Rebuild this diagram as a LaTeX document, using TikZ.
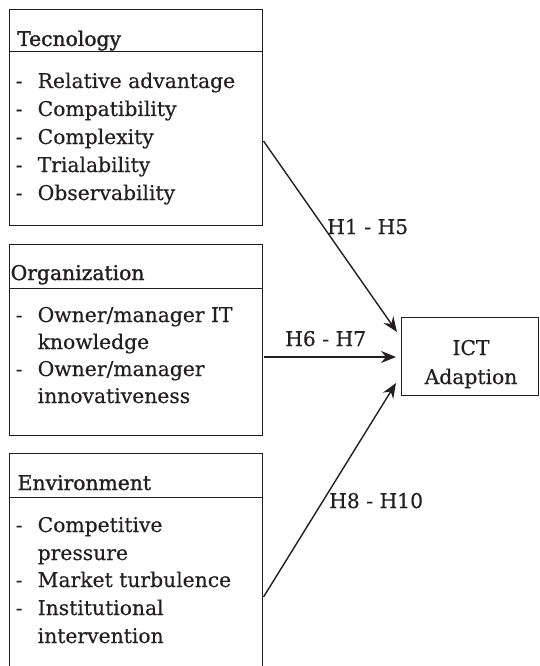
\documentclass[tikz,border=0pt]{standalone}
\usepackage{fontspec}
\setmainfont[FakeBold=0.35]{DejaVu Serif}
\newfontfamily\hdfont[FakeBold=1.4]{DejaVu Serif}
\usetikzlibrary{arrows.meta}
\definecolor{ink}{HTML}{231F20}
\begin{document}
\begin{tikzpicture}[x=1pt,y=-1pt,
  box/.style={draw=ink,line width=1pt},
  txt/.style={anchor=base west,inner sep=0pt,text=ink,font=\fontsize{20.3}{24}\selectfont},
  hd/.style={anchor=base west,inner sep=0pt,text=ink,font=\hdfont\fontsize{20.3}{24}\selectfont},
  ctr/.style={anchor=base,inner sep=0pt,text=ink,font=\fontsize{20.3}{24}\selectfont},
  arr/.style={draw=ink,line width=1.4pt,-{Stealth[length=15pt,width=12pt,inset=5pt]}}]
\useasboundingbox (0,0) rectangle (539,666);

% Tecnology box
\draw[box] (9,10) rectangle (262,225);
\draw[box] (9,52) -- (262,52);
\node[hd] (th) at (17,46) {Tecnology};
\node[txt] (td1) at (15.5,88) {-};
\node[txt] (t1) at (37.5,88) {Relative advantage};
\node[txt] (td2) at (15.5,116) {-};
\node[txt] (t2) at (37.5,116) {Compatibility};
\node[txt] (td3) at (15.5,144) {-};
\node[txt] (t3) at (37.5,144) {Complexity};
\node[txt] (td4) at (15.5,172) {-};
\node[txt] (t4) at (37.5,172) {Trialability};
\node[txt] (td5) at (15.5,200) {-};
\node[txt] (t5) at (37.5,200) {Observability};

% Organization box
\draw[box] (9,244) rectangle (262,435);
\draw[box] (9,288) -- (262,288);
\node[hd] (oh) at (10.5,280) {Organization};
\node[txt] (od1) at (15.5,322) {-};
\node[txt] (o1) at (37.5,322) {Owner/manager IT};
\node[txt] (o1b) at (37.5,349) {knowledge};
\node[txt] (od2) at (15.5,376) {-};
\node[txt] (o2) at (37.5,376) {Owner/manager};
\node[txt] (o2b) at (37.5,403) {innovativeness};

% Environment box (open at the bottom)
\draw[box] (9,670) -- (9,453) -- (262,453) -- (262,670);
\draw[box] (9,497) -- (262,497);
\node[hd] (eh) at (17.5,490) {Environment};
\node[txt] (ed1) at (15.5,532) {-};
\node[txt] (e1) at (37.5,532) {Competitive};
\node[txt] (e1b) at (37.5,560) {pressure};
\node[txt] (ed2) at (15.5,587) {-};
\node[txt] (e2) at (37.5,587) {Market turbulence};
\node[txt] (ed3) at (15.5,615) {-};
\node[txt] (e3) at (37.5,615) {Institutional};
\node[txt] (e3b) at (37.5,643) {intervention};

% ICT box
\draw[box] (401,317) rectangle (538,395);
\node[ctr] (ict1) at (471,355) {ICT};
\node[ctr] (ict2) at (471,384) {Adaption};

% connectors
\coordinate (s1) at (263.5,141);
\coordinate (e1t) at (397,332);
\coordinate (s2) at (264,357);
\coordinate (e2t) at (396,357);
\coordinate (s3) at (263.5,597);
\coordinate (e3t) at (396,383);
\draw[arr] (s1) -- (e1t);
\draw[arr] (s2) -- (e2t);
\draw[arr] (s3) -- (e3t);

\node[txt] (h1) at (327,234) {H1 - H5};
\node[txt] (h2) at (285,346) {H6 - H7};
\node[txt] (h3) at (329,508) {H8 - H10};
\end{tikzpicture}
\end{document}
